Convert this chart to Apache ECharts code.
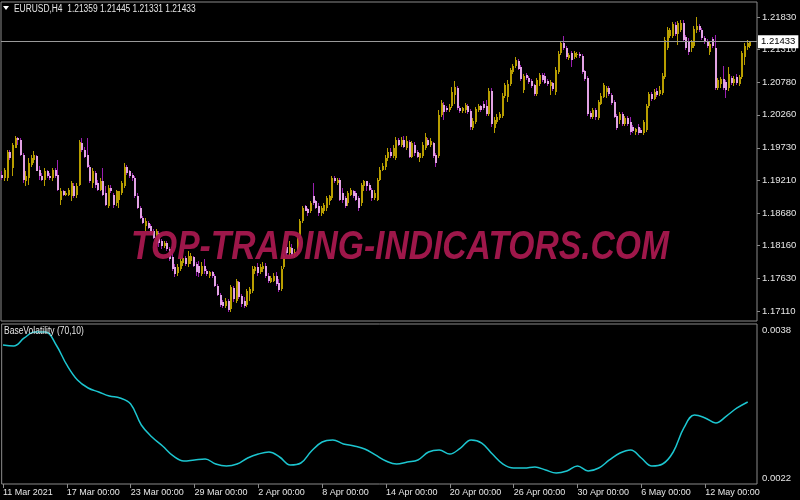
<!DOCTYPE html>
<html><head><meta charset="utf-8">
<script src="https://cdn.jsdelivr.net/npm/echarts@6/dist/echarts.min.js"></script>
<style>html,body{margin:0;padding:0;background:#000;}#c{width:800px;height:500px;}</style>
</head><body><div id="c"></div>
<script>
const symbol = 'EURUSD';
const timeframe = 'H4';
const indicatorName = 'BaseVolatility (70,10)';
const watermark = 'TOP-TRADING-INDICATORS.COM';

const opens = [
1.1930,1.1924,1.1925,1.1967,1.1941,1.1973,1.1988,1.1986,1.1962,1.1919,
1.1925,1.1946,1.1954,1.1960,1.1938,1.1928,1.1922,1.1935,1.1928,1.1925,
1.1938,1.1930,1.1890,1.1903,1.1898,1.1898,1.1896,1.1912,1.1898,1.1914,
1.1981,1.1970,1.1962,1.1943,1.1917,1.1933,1.1917,1.1906,1.1919,1.1901,
1.1880,1.1909,1.1898,1.1884,1.1890,1.1901,1.1912,1.1943,1.1935,1.1930,
1.1925,1.1896,1.1877,1.1861,1.1848,1.1853,1.1847,1.1839,1.1826,1.1837,
1.1823,1.1815,1.1820,1.1810,1.1797,1.1781,1.1772,1.1778,1.1788,1.1796,
1.1786,1.1791,1.1797,1.1786,1.1784,1.1770,1.1784,1.1775,1.1767,1.1773,
1.1767,1.1751,1.1736,1.1725,1.1719,1.1727,1.1714,1.1748,1.1727,1.1757,
1.1735,1.1727,1.1720,1.1738,1.1743,1.1775,1.1781,1.1773,1.1778,1.1784,
1.1768,1.1757,1.1760,1.1767,1.1756,1.1746,1.1781,1.1813,1.1804,1.1812,
1.1800,1.1802,1.1829,1.1855,1.1879,1.1874,1.1871,1.1896,1.1887,1.1879,
1.1868,1.1872,1.1877,1.1887,1.1893,1.1924,1.1917,1.1922,1.1900,1.1892,
1.1884,1.1898,1.1903,1.1900,1.1893,1.1885,1.1912,1.1919,1.1914,1.1906,
1.1893,1.1890,1.1922,1.1938,1.1943,1.1956,1.1967,1.1960,1.1957,1.1986,
1.1978,1.1986,1.1973,1.1983,1.1958,1.1978,1.1967,1.1957,1.1960,1.1973,
1.1986,1.1978,1.1980,1.1962,1.1960,1.2026,1.2042,1.2037,1.2034,1.2040,
1.2058,1.2069,1.2037,1.2032,1.2034,1.2040,1.2032,1.2005,1.2015,1.2034,
1.2040,1.2044,1.2040,1.2028,1.2064,1.2005,1.2015,1.2021,1.2024,1.2056,
1.2055,1.2076,1.2095,1.2104,1.2112,1.2103,1.2066,1.2090,1.2085,1.2080,
1.2074,1.2060,1.2076,1.2090,1.2088,1.2080,1.2072,1.2077,1.2063,1.2095,
1.2125,1.2141,1.2133,1.2117,1.2125,1.2119,1.2122,1.2124,1.2120,1.2096,
1.2085,1.2029,1.2023,1.2034,1.2021,1.2044,1.2055,1.2063,1.2069,1.2058,
1.2047,1.2024,1.2018,1.2028,1.2012,1.2021,1.2015,1.2007,1.1999,1.2007,
1.2002,1.1997,1.2002,1.2040,1.2060,1.2052,1.2064,1.2060,1.2061,1.2087,
1.2133,1.2152,1.2152,1.2170,1.2156,1.2162,1.2173,1.2151,1.2143,1.2133,
1.2136,1.2162,1.2168,1.2162,1.2149,1.2144,1.2127,1.2148,1.2133,1.2069,
1.2076,1.2084,1.2079,1.2069,1.2085,1.2077,1.2087,1.2076,1.2087,1.2119,
1.2135,1.21359];

const closes = [
1.1925,1.1938,1.1967,1.1957,1.1978,1.1989,1.1986,1.1962,1.1922,1.1928,
1.1949,1.1957,1.1962,1.1936,1.1927,1.1922,1.1936,1.1928,1.1925,1.1938,
1.1928,1.1906,1.1903,1.1898,1.1901,1.1906,1.1916,1.1896,1.1912,1.1983,
1.1970,1.1958,1.1943,1.1920,1.1935,1.1914,1.1906,1.1919,1.1898,1.1882,
1.1909,1.1903,1.1882,1.1903,1.1903,1.1917,1.1943,1.1933,1.1928,1.1925,
1.1896,1.1877,1.1861,1.1853,1.1855,1.1845,1.1837,1.1829,1.1839,1.1821,
1.1815,1.1821,1.1810,1.1794,1.1778,1.1770,1.1781,1.1791,1.1796,1.1786,
1.1800,1.1799,1.1784,1.1773,1.1772,1.1784,1.1775,1.1770,1.1773,1.1767,
1.1751,1.1736,1.1720,1.1719,1.1727,1.1712,1.1749,1.1730,1.1759,1.1733,
1.1722,1.1719,1.1743,1.1746,1.1778,1.1781,1.1772,1.1781,1.1784,1.1768,
1.1759,1.1764,1.1767,1.1754,1.1744,1.1778,1.1799,1.1804,1.1813,1.1800,
1.1805,1.1829,1.1855,1.1877,1.1872,1.1868,1.1885,1.1885,1.1876,1.1868,
1.1876,1.1882,1.1892,1.1895,1.1925,1.1919,1.1922,1.1890,1.1890,1.1879,
1.1900,1.1906,1.1896,1.1890,1.1877,1.1914,1.1919,1.1911,1.1906,1.1893,
1.1900,1.1922,1.1938,1.1944,1.1957,1.1967,1.1960,1.1973,1.1986,1.1978,
1.1986,1.1975,1.1984,1.1958,1.1981,1.1964,1.1958,1.1964,1.1978,1.1991,
1.1978,1.1984,1.1960,1.1949,1.2026,1.2045,1.2031,1.2034,1.2039,1.2063,
1.2071,1.2037,1.2032,1.2037,1.2042,1.2031,1.2007,1.2016,1.2036,1.2040,
1.2034,1.2037,1.2028,1.2064,1.2012,1.2018,1.2023,1.2028,1.2056,1.2074,
1.2076,1.2098,1.2104,1.2114,1.2100,1.2084,1.2088,1.2085,1.2079,1.2072,
1.2060,1.2082,1.2090,1.2082,1.2077,1.2076,1.2079,1.2068,1.2098,1.2124,
1.2141,1.2133,1.2119,1.2122,1.2114,1.2125,1.2124,1.2120,1.2095,1.2084,
1.2028,1.2023,1.2034,1.2023,1.2047,1.2056,1.2074,1.2069,1.2060,1.2045,
1.2023,1.2005,1.2028,1.2012,1.2021,1.2012,1.1999,1.2000,1.2004,1.1997,
1.1997,1.2015,1.2040,1.2060,1.2052,1.2063,1.2058,1.2066,1.2088,1.2146,
1.2162,1.2162,1.2172,1.2156,1.2173,1.2173,1.2146,1.2133,1.2127,1.2143,
1.2164,1.2168,1.2162,1.2149,1.2143,1.2136,1.2140,1.2136,1.2069,1.2082,
1.2084,1.2069,1.2066,1.2092,1.2077,1.2084,1.2077,1.2087,1.2125,1.2136,
1.2141,1.21433];

const highs = [
1.1935,1.1941,1.1970,1.1970,1.1981,1.1992,1.1991,1.1988,1.1965,1.1935,
1.1957,1.1962,1.1968,1.1962,1.1944,1.1932,1.1940,1.1938,1.1933,1.1941,
1.1941,1.1954,1.1908,1.1906,1.1904,1.1909,1.1919,1.1916,1.1916,1.1986,
1.1989,1.1975,1.1989,1.1946,1.1941,1.1936,1.1922,1.1924,1.1941,1.1911,
1.1914,1.1914,1.1901,1.1906,1.1904,1.1920,1.1949,1.1946,1.1938,1.1933,
1.1928,1.1900,1.1880,1.1864,1.1861,1.1856,1.1850,1.1842,1.1842,1.1840,
1.1826,1.1824,1.1823,1.1813,1.1810,1.1786,1.1786,1.1797,1.1800,1.1799,
1.1807,1.1804,1.1800,1.1789,1.1791,1.1789,1.1794,1.1778,1.1776,1.1776,
1.1770,1.1754,1.1740,1.1728,1.1732,1.1730,1.1752,1.1751,1.1762,1.1760,
1.1738,1.1733,1.1746,1.1749,1.1783,1.1784,1.1788,1.1786,1.1789,1.1788,
1.1772,1.1768,1.1772,1.1773,1.1762,1.1783,1.1802,1.1818,1.1823,1.1818,
1.1810,1.1832,1.1858,1.1880,1.1882,1.1877,1.1888,1.1917,1.1890,1.1884,
1.1879,1.1885,1.1895,1.1898,1.1928,1.1927,1.1925,1.1925,1.1909,1.1896,
1.1904,1.1909,1.1906,1.1903,1.1896,1.1917,1.1922,1.1920,1.1917,1.1909,
1.1906,1.1925,1.1943,1.1949,1.1962,1.1972,1.1972,1.1978,1.1991,1.1989,
1.1991,1.1992,1.1992,1.1986,1.1984,1.1983,1.1970,1.1965,1.1983,1.1996,
1.1989,1.1989,1.1983,1.1965,1.2034,1.2050,1.2047,1.2040,1.2044,1.2071,
1.2080,1.2072,1.2040,1.2039,1.2045,1.2044,1.2036,1.2021,1.2039,1.2044,
1.2042,1.2048,1.2050,1.2069,1.2069,1.2023,1.2028,1.2031,1.2061,1.2077,
1.2082,1.2101,1.2108,1.2119,1.2116,1.2106,1.2092,1.2093,1.2088,1.2084,
1.2076,1.2085,1.2093,1.2093,1.2093,1.2084,1.2082,1.2079,1.2103,1.2128,
1.2144,1.2152,1.2136,1.2125,1.2128,1.2128,1.2127,1.2127,1.2124,1.2098,
1.2088,1.2032,1.2037,1.2037,1.2050,1.2061,1.2077,1.2072,1.2072,1.2061,
1.2050,1.2028,1.2031,1.2031,1.2024,1.2024,1.2023,1.2010,1.2005,1.2012,
1.2005,1.2018,1.2044,1.2063,1.2063,1.2068,1.2069,1.2072,1.2093,1.2151,
1.2167,1.2165,1.2175,1.2175,1.2176,1.2178,1.2178,1.2154,1.2149,1.2146,
1.2168,1.2183,1.2172,1.2165,1.2152,1.2148,1.2144,1.2151,1.2154,1.2085,
1.2087,1.2104,1.2082,1.2103,1.2088,1.2088,1.2092,1.2090,1.2128,1.2141,
1.2146,1.21445];

const lows = [
1.1922,1.1920,1.1919,1.1954,1.1928,1.1972,1.1978,1.1960,1.1917,1.1911,
1.1914,1.1943,1.1949,1.1935,1.1922,1.1919,1.1911,1.1924,1.1922,1.1920,
1.1925,1.1903,1.1882,1.1895,1.1895,1.1895,1.1887,1.1892,1.1893,1.1911,
1.1967,1.1956,1.1941,1.1917,1.1909,1.1909,1.1903,1.1903,1.1895,1.1879,
1.1877,1.1901,1.1877,1.1880,1.1877,1.1898,1.1909,1.1930,1.1924,1.1920,
1.1893,1.1874,1.1858,1.1850,1.1839,1.1842,1.1834,1.1826,1.1818,1.1813,
1.1810,1.1812,1.1807,1.1791,1.1775,1.1765,1.1768,1.1775,1.1784,1.1783,
1.1781,1.1786,1.1781,1.1767,1.1765,1.1767,1.1770,1.1767,1.1764,1.1764,
1.1749,1.1735,1.1717,1.1716,1.1716,1.1709,1.1709,1.1725,1.1724,1.1730,
1.1717,1.1716,1.1717,1.1727,1.1740,1.1770,1.1768,1.1770,1.1773,1.1764,
1.1756,1.1756,1.1757,1.1751,1.1741,1.1743,1.1778,1.1800,1.1800,1.1797,
1.1796,1.1799,1.1826,1.1853,1.1871,1.1864,1.1869,1.1882,1.1874,1.1864,
1.1863,1.1866,1.1871,1.1882,1.1890,1.1916,1.1914,1.1887,1.1885,1.1876,
1.1880,1.1895,1.1893,1.1887,1.1871,1.1880,1.1903,1.1903,1.1903,1.1887,
1.1890,1.1887,1.1919,1.1935,1.1938,1.1952,1.1957,1.1957,1.1954,1.1976,
1.1975,1.1972,1.1970,1.1957,1.1956,1.1960,1.1956,1.1951,1.1957,1.1970,
1.1976,1.1975,1.1957,1.1943,1.1957,1.2023,1.2018,1.2031,1.2031,1.2037,
1.2044,1.2034,1.2029,1.2029,1.2029,1.2028,1.2002,1.2002,1.2012,1.2031,
1.2031,1.2034,1.2024,1.2024,1.2007,1.1997,1.2012,1.2018,1.2021,1.2053,
1.2047,1.2072,1.2092,1.2101,1.2098,1.2080,1.2061,1.2082,1.2076,1.2069,
1.2056,1.2056,1.2072,1.2079,1.2076,1.2072,1.2058,1.2064,1.2058,1.2092,
1.2122,1.2130,1.2116,1.2114,1.2103,1.2116,1.2117,1.2117,1.2092,1.2080,
1.2024,1.2020,1.2020,1.2018,1.2018,1.2042,1.2053,1.2053,1.2056,1.2042,
1.2021,1.2002,1.2012,1.2008,1.2008,1.2008,1.1994,1.1997,1.1994,1.1994,
1.1996,1.1994,1.1999,1.2037,1.2048,1.2050,1.2055,1.2056,1.2058,1.2084,
1.2130,1.2149,1.2149,1.2152,1.2138,1.2159,1.2143,1.2130,1.2122,1.2127,
1.2133,1.2157,1.2159,1.2146,1.2140,1.2133,1.2122,1.2133,1.2066,1.2066,
1.2069,1.2066,1.2053,1.2064,1.2074,1.2072,1.2074,1.2072,1.2084,1.2106,
1.2130,1.21331];

const priceTicks = [1.17110,1.17630,1.18160,1.18680,1.19210,1.19730,1.20260,1.20780,1.21310,1.21830];
const indicatorTicks = [0.0022, 0.0038];
const dateLabels = ['11 Mar 2021','17 Mar 00:00','23 Mar 00:00','29 Mar 00:00','2 Apr 00:00','8 Apr 00:00',
  '14 Apr 00:00','20 Apr 00:00','26 Apr 00:00','30 Apr 00:00','6 May 00:00','12 May 00:00'];
const barsPerLabel = 24;
const totalSlots = 284;

const indicatorBars = [0,4,8,12,16,20,24,28,32,36,40,44,48,52,56,60,64,68,72,76,80,84,88,92,96,100,
  104,108,112,116,120,124,128,132,136,140,144,148,152,156,160,164,168,172,176,180,184,188,192,196,200,
  204,208,212,216,220,224,228,232,236,240,244,248,252,256,260,264,268,272,276,280];
const indicatorValues = [
0.003638,0.003627,0.003714,0.003778,0.003778,0.003638,0.003422,0.003259,0.003173,0.003130,
0.003086,0.003065,0.003000,0.002773,0.002643,0.002546,0.002438,0.002384,0.002395,0.002405,
0.002351,0.002330,0.002351,0.002416,0.002459,0.002481,0.002427,0.002341,0.002362,0.002492,
0.002589,0.002611,0.002568,0.002546,0.002513,0.002449,0.002384,0.002351,0.002373,0.002395,
0.002481,0.002503,0.002459,0.002524,0.002611,0.002578,0.002459,0.002351,0.002308,0.002308,
0.002319,0.002286,0.002254,0.002276,0.002330,0.002276,0.002308,0.002395,0.002470,0.002503,
0.002416,0.002330,0.002351,0.002481,0.002741,0.002881,0.002849,0.002795,0.002870,0.002957,
0.003022];

const FONT = "'Liberation Sans',Arial,sans-serif";
const TEXT = '#e6e6e6';
const FRAME = '#8a8a8a';
const BULL = '#b89e00';
const BEAR_BODY = '#e2a2e4';
const BEAR_WICK = '#9a1fb0';

const categories = Array.from({length: totalSlots}, (_, i) => String(i));
const candleData = opens.map((o, i) => [i, o, closes[i], lows[i], highs[i]]);
const last = opens.length - 1;
const lastClose = closes[last];

function renderCandle(params, api) {
  const i = api.value(0), o = api.value(1), c = api.value(2), l = api.value(3), h = api.value(4);
  const pO = api.coord([i, o]), pC = api.coord([i, c]), pL = api.coord([i, l]), pH = api.coord([i, h]);
  const x = Math.round(pO[0]);
  const bull = c >= o;
  const top = Math.round(Math.min(pO[1], pC[1]));
  const bot = Math.round(Math.max(pO[1], pC[1]));
  return {type: 'group', children: [
    {type: 'line', shape: {x1: x - 0.5, y1: Math.round(pH[1]), x2: x - 0.5, y2: Math.round(pL[1])},
     style: {stroke: bull ? BULL : BEAR_WICK, lineWidth: 1}},
    {type: 'rect', shape: {x: x - 1, y: top, width: 2, height: Math.max(1, bot - top)},
     style: {fill: bull ? BULL : BEAR_BODY}}
  ]};
}

const chart = echarts.init(document.getElementById('c'), null, {renderer: 'canvas'});
const labelInterval = (idx) => idx % barsPerLabel === 0 && idx / barsPerLabel < dateLabels.length;

chart.setOption({
  backgroundColor: '#000000',
  animation: false,
  grid: [
    {left: 1, right: 43, top: 2, height: 319, show: true, borderColor: FRAME, borderWidth: 1, backgroundColor: 'transparent'},
    {left: 1, right: 43, top: 324, height: 160, show: true, borderColor: FRAME, borderWidth: 1, backgroundColor: 'transparent'}
  ],
  xAxis: [
    {type: 'category', gridIndex: 0, data: categories, boundaryGap: true, show: false},
    {type: 'category', gridIndex: 1, data: categories, boundaryGap: true,
     axisLine: {show: false},
     axisTick: {show: true, interval: labelInterval, alignWithLabel: true, length: 4, lineStyle: {color: FRAME}},
     axisLabel: {interval: labelInterval, formatter: (v, idx) => dateLabels[Math.round(idx / barsPerLabel)] || '',
       align: 'left', color: TEXT, fontSize: 9, fontFamily: FONT, margin: 4, hideOverlap: false},
     splitLine: {show: false}}
  ],
  yAxis: [
    {type: 'value', gridIndex: 0, position: 'right', min: 1.16950, max: 1.22071, scale: true,
     axisLine: {show: false}, splitLine: {show: false},
     axisTick: {show: true, customValues: priceTicks, length: 3, lineStyle: {color: FRAME}},
     axisLabel: {customValues: priceTicks, formatter: v => v.toFixed(5), color: TEXT, fontSize: 9.5, fontFamily: FONT, margin: 5}},
    {type: 'value', gridIndex: 1, position: 'right', min: 0.002135, max: 0.003865, scale: true,
     axisLine: {show: false}, splitLine: {show: false},
     axisTick: {show: false},
     axisLabel: {customValues: indicatorTicks, formatter: v => v.toFixed(4), color: TEXT, fontSize: 9.5, fontFamily: FONT, margin: 5}}
  ],
  series: [
    {type: 'line', xAxisIndex: 0, yAxisIndex: 0, data: [[last, lastClose]], showSymbol: false,
     lineStyle: {opacity: 0}, silent: true, z: 1,
     markLine: {silent: true, symbol: ['none', 'none'], animation: false, precision: 5,
       lineStyle: {color: '#9a9a9a', type: 'solid', width: 1},
       label: {position: 'end', formatter: p => Number(p.value).toFixed(5), color: '#000', backgroundColor: '#ffffff',
         fontSize: 9.5, fontFamily: FONT, padding: [2, 3, 1, 3], distance: 1},
       data: [{yAxis: lastClose}]}},
    {type: 'custom', xAxisIndex: 0, yAxisIndex: 0, data: candleData, renderItem: renderCandle,
     encode: {x: 0, y: [1, 2, 3, 4]}, z: 3, clip: true},
    {type: 'line', xAxisIndex: 1, yAxisIndex: 1, data: indicatorBars.map((b, k) => [b, indicatorValues[k]]),
     smooth: 0.4, showSymbol: false, lineStyle: {color: '#1cc6d0', width: 1.5}, z: 3}
  ],
  graphic: [
    {type: 'polygon', shape: {points: [[3, 6], [9, 6], [6, 10]]}, style: {fill: '#ffffff'}, z: 10},
    {type: 'text', x: 14, y: 9, z: 10, scaleX: 0.84, originX: 0, originY: 0, style: {
      text: `${symbol},${timeframe}  ${opens[last].toFixed(5)} ${highs[last].toFixed(5)} ${lows[last].toFixed(5)} ${closes[last].toFixed(5)}`,
      fill: TEXT, font: `10px ${FONT}`, textVerticalAlign: 'middle'}},
    {type: 'text', x: 4, y: 331, z: 10, scaleX: 0.85, originX: 0, originY: 0,
     style: {text: indicatorName, fill: TEXT, font: `10px ${FONT}`, textVerticalAlign: 'middle'}},
    {type: 'text', x: 400, y: 248, z: 20, scaleX: 0.82, originX: 0, originY: 0,
     style: {text: watermark, fill: '#a6184e', opacity: 0.95,
      font: `italic bold 41px ${FONT}`, textAlign: 'center', textVerticalAlign: 'middle'}}
  ]
});
</script></body></html>
